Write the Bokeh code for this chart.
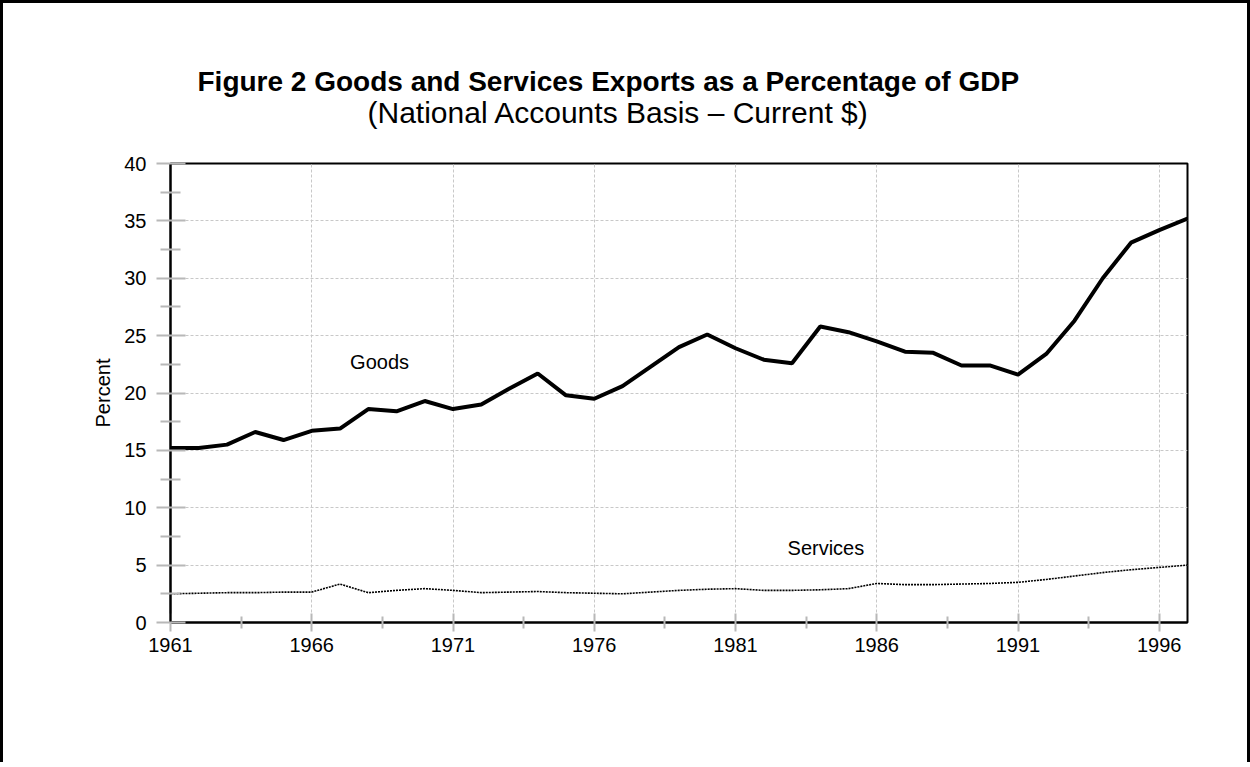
import numpy as np
from bokeh.plotting import figure
from bokeh.models import FixedTicker, Label, Range1d, Title
from bokeh.embed import file_html
from bokeh.resources import INLINE

years = list(range(1961, 1998))
goods = [15.2, 15.2, 15.5, 16.6, 15.9, 16.7, 16.9, 18.6, 18.4, 19.3,
         18.6, 19.0, 20.4, 21.7, 19.8, 19.5, 20.6, 22.3, 24.0, 25.1,
         23.9, 22.9, 22.6, 25.8, 25.3, 24.5, 23.6, 23.5, 22.4, 22.4,
         21.6, 23.4, 26.3, 30.0, 33.1, 34.2, 35.2]
services = [2.5, 2.55, 2.6, 2.6, 2.65, 2.65, 3.35, 2.6, 2.8, 2.95,
            2.8, 2.6, 2.65, 2.7, 2.6, 2.55, 2.5, 2.65, 2.8, 2.9,
            2.95, 2.8, 2.8, 2.85, 2.95, 3.4, 3.3, 3.3, 3.35, 3.4,
            3.5, 3.75, 4.05, 4.35, 4.6, 4.8, 5.0]
x_major = [1961, 1966, 1971, 1976, 1981, 1986, 1991, 1996]
x_minor = [1963.5, 1968.5, 1973.5, 1978.5, 1983.5, 1988.5, 1993.5]
y_major = [0, 5, 10, 15, 20, 25, 30, 35, 40]
y_minor = [2.5, 7.5, 12.5, 17.5, 22.5, 27.5, 32.5, 37.5]

title_text = "Figure 2  Goods and Services Exports as a Percentage of GDP"
subtitle_text = "(National Accounts Basis \u2013 Current $)"
FONT = "Liberation Sans"

p = figure(width=1244, height=760, output_backend="svg", toolbar_location=None,
           x_range=Range1d(1961, 1997), y_range=Range1d(0, 40),
           min_border_left=167, min_border_top=160, min_border_right=60,
           min_border_bottom=140, frame_width=1017, frame_height=459,
           styles={"border-left": "3px solid black", "border-top": "3px solid black",
                   "border-right": "3px solid black"})

p.title.text = title_text
p.title.text_font = FONT
p.title.text_font_size = "28px"
p.title.text_font_style = "bold"
p.title.text_color = "black"
p.title.align = "left"
p.title.offset = 27
p.title.standoff = -76

sub = Title(text=subtitle_text, text_font=FONT, text_font_size="30px",
            text_font_style="normal", text_color="black", align="left",
            offset=197, standoff=70)
p.add_layout(sub, "above")

p.outline_line_color = "black"
p.outline_line_width = 2

for ax in (p.xaxis[0], p.yaxis[0]):
    ax.axis_line_color = "black"
    ax.axis_line_width = 2
    ax.major_tick_line_color = "#b8b8b8"
    ax.major_tick_line_width = 2
    ax.minor_tick_line_color = "#b8b8b8"
    ax.minor_tick_line_width = 2
    ax.major_label_text_font = FONT
    ax.major_label_text_font_size = "20px"
    ax.major_label_text_color = "black"

p.xaxis.ticker = FixedTicker(ticks=x_major, minor_ticks=x_minor)
p.yaxis.ticker = FixedTicker(ticks=y_major, minor_ticks=y_minor)
p.xaxis.major_tick_in = 9
p.xaxis.major_tick_out = 9
p.xaxis.minor_tick_in = 6
p.xaxis.minor_tick_out = 6
p.xaxis.major_label_standoff = 6
p.yaxis.major_tick_in = 15
p.yaxis.major_tick_out = 14
p.yaxis.minor_tick_in = 10
p.yaxis.minor_tick_out = 10
p.yaxis.major_label_standoff = 10
p.yaxis.axis_label = "Percent"
p.yaxis.axis_label_text_font = FONT
p.yaxis.axis_label_text_font_size = "20px"
p.yaxis.axis_label_text_font_style = "normal"
p.yaxis.axis_label_text_color = "black"
p.yaxis.axis_label_standoff = 7

p.grid.grid_line_color = "#c8c8c8"
p.grid.grid_line_dash = "3 2"
p.grid.grid_line_width = 1

p.line(years, services, line_color="black", line_width=1.6, line_dash="2 1")
p.line(years, goods, line_color="black", line_width=4)

p.add_layout(Label(x=1968.4, y=22.7, text="Goods", text_font=FONT, text_font_size="20px",
                   text_color="black", text_align="center", text_baseline="middle"))
p.add_layout(Label(x=1984.2, y=6.5, text="Services", text_font=FONT, text_font_size="20px",
                   text_color="black", text_align="center", text_baseline="middle"))

open("out.html", "w").write(file_html(p, INLINE))
